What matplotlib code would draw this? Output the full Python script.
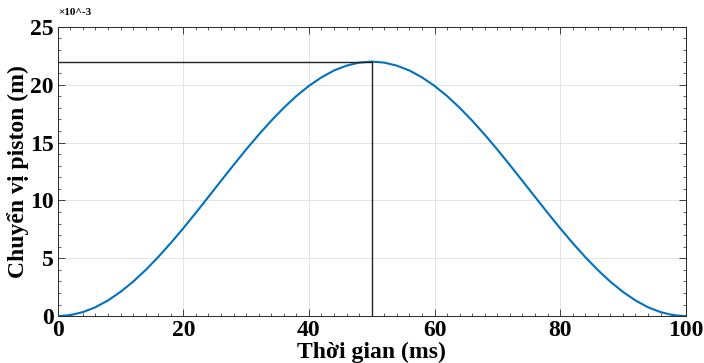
import numpy as np
import matplotlib
matplotlib.use("Agg")
import matplotlib.pyplot as plt
from matplotlib.ticker import MultipleLocator

# time (ms)
t_ms = [0, 2, 4, 6, 8, 10, 12, 14, 16, 18, 20, 22, 24, 26, 28, 30, 32, 34, 36, 38, 40,
        42, 44, 46, 48, 50, 52, 54, 56, 58, 60, 62, 64, 66, 68, 70, 72, 74, 76, 78, 80,
        82, 84, 86, 88, 90, 92, 94, 96, 98, 100]
# piston displacement (x10^-3 m)
disp = [0.00, 0.09, 0.35, 0.77, 1.36, 2.10, 2.98, 3.99, 5.11, 6.32, 7.60, 8.94, 10.31,
        11.69, 13.06, 14.40, 15.68, 16.89, 18.01, 19.02, 19.90, 20.64, 21.23, 21.65, 21.91,
        22.00,
        21.91, 21.65, 21.23, 20.64, 19.90, 19.02, 18.01, 16.89, 15.68, 14.40, 13.06, 11.69,
        10.31, 8.94, 7.60, 6.32, 5.11, 3.99, 2.98, 2.10, 1.36, 0.77, 0.35, 0.09, 0.00]
peak_t = 50
peak_disp = 22

xlabel = "Thời gian (ms)"
ylabel = "Chuyển vị piston (m)"
xticks = [0, 20, 40, 60, 80, 100]
yticks = [0, 5, 10, 15, 20, 25]

plt.rcParams['font.family'] = ['Liberation Serif', 'DejaVu Serif']
plt.rcParams['font.weight'] = 'bold'

fig = plt.figure(figsize=(7.04, 3.63), dpi=100)
ax = fig.add_axes([0.082, 0.129, 0.892, 0.797])

ax.plot(t_ms, disp, color='#0072BD', lw=1.5, zorder=3)
ax.plot([0, peak_t], [peak_disp, peak_disp], color='#222222', lw=1.0, zorder=4)
ax.plot([peak_t, peak_t], [0, peak_disp], color='#222222', lw=1.0, zorder=4)

ax.set_xlim(0, 100)
ax.set_ylim(0, 25)
ax.set_xticks(xticks)
ax.set_yticks(yticks)
ax.xaxis.set_minor_locator(MultipleLocator(2))
ax.yaxis.set_minor_locator(MultipleLocator(1))
ax.tick_params(which='both', direction='in', top=True, right=True, colors='#262626')
ax.tick_params(which='major', length=5, width=0.6, labelsize=17)
ax.tick_params(axis='x', which='major', pad=3)
ax.tick_params(axis='y', which='major', pad=3)
ax.tick_params(which='minor', length=2.5, width=0.5)
for lab in ax.get_xticklabels() + ax.get_yticklabels():
    lab.set_fontweight('bold')
    lab.set_color('black')
ax.grid(True, which='major', color='#e3e3e3', lw=0.7)
ax.set_axisbelow(True)
for s in ax.spines.values():
    s.set_color('#262626')
    s.set_linewidth(0.7)

ax.set_xlabel(xlabel, fontsize=17, fontweight='bold')
ax.xaxis.label.set_va('baseline')
ax.xaxis.set_label_coords(0.5, -0.143)
ax.set_ylabel(ylabel, fontsize=17, fontweight='bold')
ax.yaxis.set_label_coords(-0.046, 0.5)

fig.text(0.082, 0.965, "×10^-3", fontsize=8, fontweight='bold', ha='left', va='center')

fig.savefig("out.png", dpi=100)
